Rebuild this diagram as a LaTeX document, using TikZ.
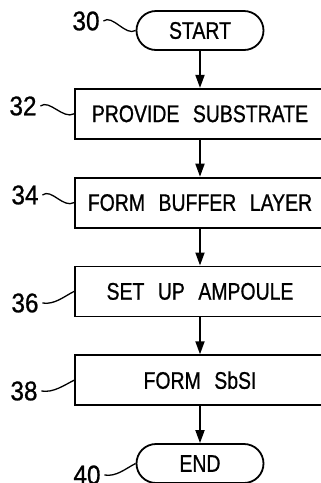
\documentclass[tikz,border=0pt]{standalone}
\usepackage{fontspec}
\setmainfont[FakeStretch=0.81,WordSpace=2.5,FakeBold=0.8]{Liberation Sans}
\newfontfamily\tagfont[FakeStretch=0.9,FakeBold=0.8]{Liberation Sans}
\usetikzlibrary{arrows.meta,positioning,shapes.misc}

\begin{document}
\begin{tikzpicture}[
    x=1pt, y=-1pt,
    font=\fontsize{24}{26}\selectfont,
    node distance=37pt,
    line width=1.8pt,
    term/.style={draw, rounded rectangle, minimum width=127pt, minimum height=39pt, inner sep=0pt},
    stepbox/.style={draw, minimum width=250pt, minimum height=50pt, inner sep=0pt},
    tag/.style={font=\tagfont\fontsize{27}{29}\selectfont, inner sep=0pt},
    arrow/.style={-{Triangle[length=13pt,width=9pt]}},
    squig/.style={line width=1.3pt}
]
\useasboundingbox (0,0) rectangle (321,483);

\node[term] (start) at (200,30.5) {START};
\node[stepbox, below=of start] (b32) {PROVIDE SUBSTRATE};
\node[stepbox, below=of b32] (b34) {FORM BUFFER LAYER};
\node[stepbox, below=of b34] (b36) {SET UP AMPOULE};
\node[stepbox, below=of b36] (b38) {FORM SbSI};
\node[term, below=of b38] (stop) {END};

% reference numerals
\node[tag] (l30) at (86,21) {30};
\node[tag] (l32) at (23,106) {32};
\node[tag] (l34) at (25,195) {34};
\node[tag] (l36) at (25,303) {36};
\node[tag] (l38) at (24,391) {38};
\node[tag] (l40) at (87,475) {40};

\draw[arrow] (start) -- (b32);
\draw[arrow] (b32) -- (b34);
\draw[arrow] (b34) -- (b36);
\draw[arrow] (b36) -- (b38);
\draw[arrow] (b38) -- (stop);

\draw[squig] ([xshift=3pt]l30.east) .. controls +(9,-7) and +(-10,6) .. (start.west);
\draw[squig] ([xshift=3pt]l32.east) .. controls +(9,-7) and +(-11,6) .. (b32.west);
\draw[squig] ([xshift=3pt]l34.east) .. controls +(9,-7) and +(-11,6) .. (b34.west);
\draw[squig] ([xshift=3pt]l36.east) .. controls +(12,2) and +(-10,5) .. (b36.west);
\draw[squig] ([xshift=3pt]l38.east) .. controls +(12,2) and +(-10,5) .. (b38.west);
\draw[squig] ([xshift=3pt]l40.east) .. controls +(12,2) and +(-10,5) .. (stop.west);
\end{tikzpicture}
\end{document}
